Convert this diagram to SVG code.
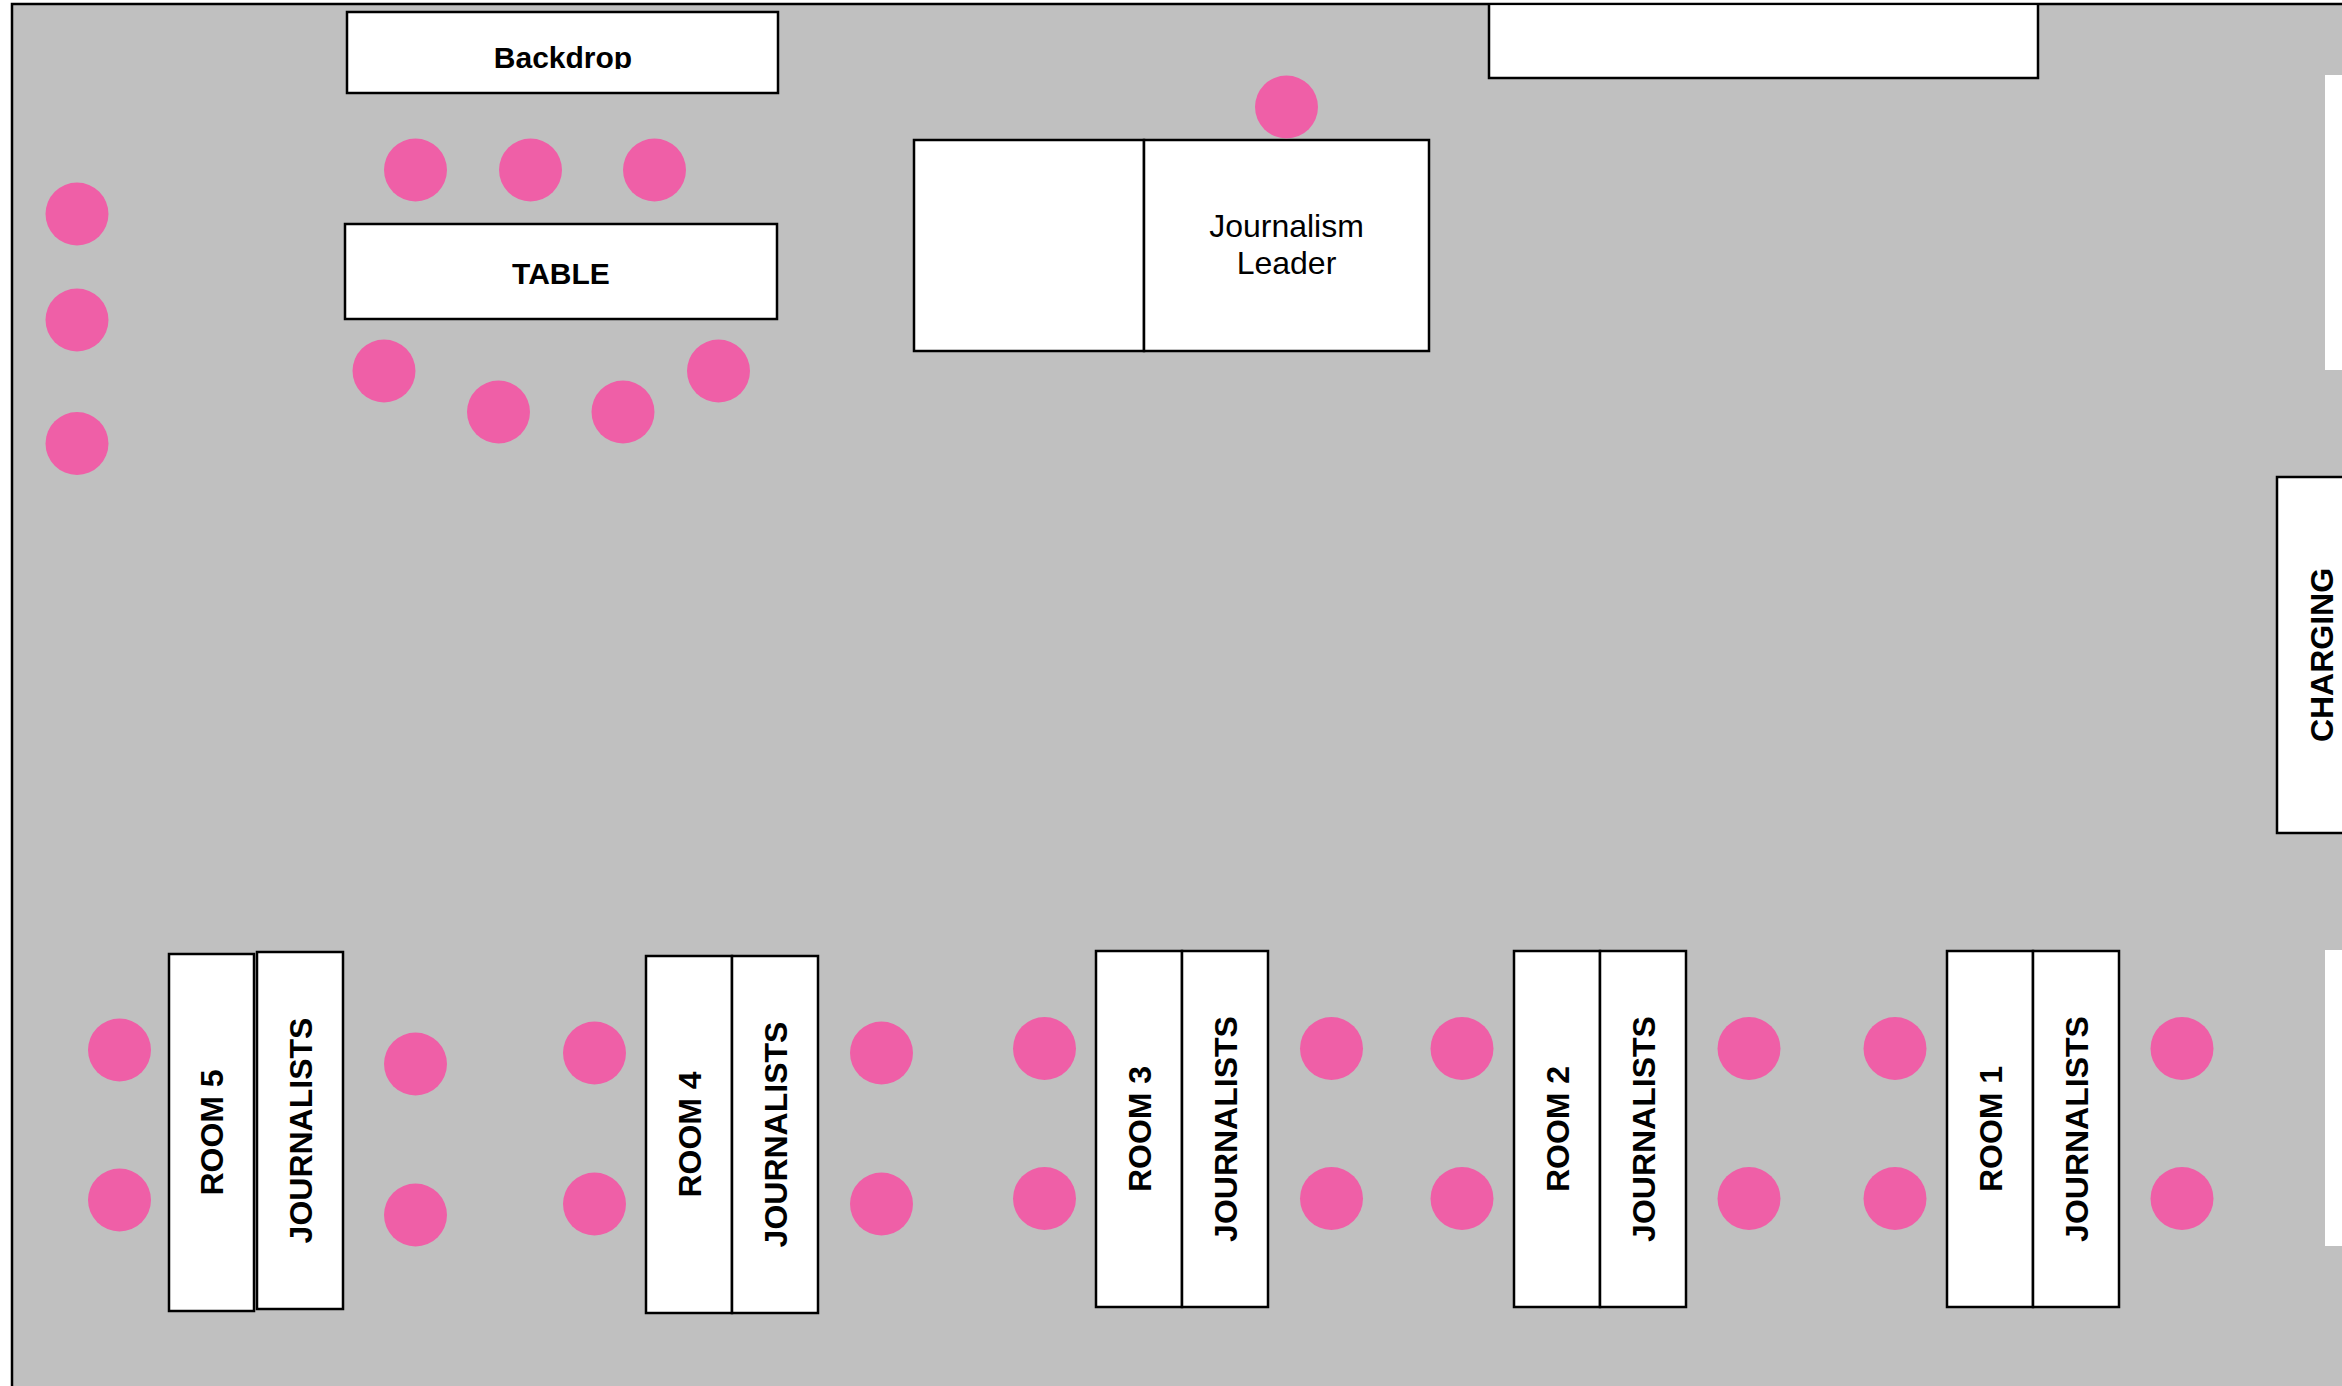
<svg xmlns="http://www.w3.org/2000/svg" width="2342" height="1386" viewBox="0 0 2342 1386">
  <defs>
    <style>
      .box { fill: #ffffff; stroke: #000000; stroke-width: 2.5; }
      .plain { fill: #ffffff; stroke: none; }
      .seat { fill: #EF5FA7; }
      .lbl { font-family: "Liberation Sans", Arial, Helvetica, sans-serif; font-weight: bold; fill: #000000; text-anchor: middle; }
      .reg { font-family: "Liberation Sans", Arial, Helvetica, sans-serif; font-weight: normal; fill: #000000; text-anchor: middle; font-size: 32px; }
      .vert { font-size: 32px; }
    </style>
    <clipPath id="backdropClip">
      <rect x="347" y="12" width="431" height="57"/>
    </clipPath>
  </defs>

  <rect x="0" y="0" width="2342" height="1386" fill="#ffffff"/>
  <rect id="room-floor" x="12" y="4" width="2400" height="1500" fill="#C0C0C0" stroke="#000000" stroke-width="2.5"/>

  <g id="backdrop">
    <rect class="box" x="347" y="12" width="431" height="81"/>
    <text class="lbl" x="563" y="68" font-size="30" clip-path="url(#backdropClip)">Backdrop</text>
  </g>

  <g id="table">
    <rect class="box" x="345" y="224" width="432" height="95"/>
    <text class="lbl" x="561" y="284" font-size="30">TABLE</text>
  </g>

  <g id="leader-desk-left">
    <rect class="box" x="914" y="140" width="230" height="211"/>
  </g>
  <g id="journalism-leader">
    <rect class="box" x="1144" y="140" width="285" height="211"/>
    <text class="reg" x="1286.5" y="237">Journalism</text>
    <text class="reg" x="1286.5" y="274">Leader</text>
  </g>

  <g id="top-right-box">
    <rect class="plain" x="1489" y="5.25" width="549" height="72.75"/>
    <path d="M1489,5 V78 H2038 V5" fill="none" stroke="#000000" stroke-width="2.5"/>
  </g>

  <g id="right-panel-top">
    <rect class="plain" x="2325" y="75" width="40" height="295"/>
  </g>

  <g id="charging">
    <rect class="box" x="2277" y="477" width="100" height="356"/>
    <text class="lbl" font-size="32" transform="translate(2321,655) rotate(-90)" x="0" y="11.5">CHARGING</text>
  </g>

  <g id="right-panel-bottom">
    <rect class="plain" x="2325" y="950" width="40" height="296"/>
  </g>

  <g id="seats">
    <circle class="seat" cx="77" cy="214" r="31.5"/>
    <circle class="seat" cx="77" cy="320" r="31.5"/>
    <circle class="seat" cx="77" cy="443.5" r="31.5"/>

    <circle class="seat" cx="415.5" cy="170" r="31.5"/>
    <circle class="seat" cx="530.5" cy="170" r="31.5"/>
    <circle class="seat" cx="654.5" cy="170" r="31.5"/>

    <circle class="seat" cx="384" cy="371" r="31.5"/>
    <circle class="seat" cx="498.5" cy="412" r="31.5"/>
    <circle class="seat" cx="623" cy="412" r="31.5"/>
    <circle class="seat" cx="718.5" cy="371" r="31.5"/>

    <circle class="seat" cx="1286.5" cy="107" r="31.5"/>

    <circle class="seat" cx="119.5" cy="1050" r="31.5"/>
    <circle class="seat" cx="119.5" cy="1200" r="31.5"/>
    <circle class="seat" cx="415.5" cy="1064" r="31.5"/>
    <circle class="seat" cx="415.5" cy="1215" r="31.5"/>

    <circle class="seat" cx="594.5" cy="1053" r="31.5"/>
    <circle class="seat" cx="594.5" cy="1204" r="31.5"/>
    <circle class="seat" cx="881.5" cy="1053" r="31.5"/>
    <circle class="seat" cx="881.5" cy="1204" r="31.5"/>

    <circle class="seat" cx="1044.5" cy="1048.5" r="31.5"/>
    <circle class="seat" cx="1044.5" cy="1198.5" r="31.5"/>
    <circle class="seat" cx="1331.5" cy="1048.5" r="31.5"/>
    <circle class="seat" cx="1331.5" cy="1198.5" r="31.5"/>

    <circle class="seat" cx="1462" cy="1048.5" r="31.5"/>
    <circle class="seat" cx="1462" cy="1198.5" r="31.5"/>
    <circle class="seat" cx="1749" cy="1048.5" r="31.5"/>
    <circle class="seat" cx="1749" cy="1198.5" r="31.5"/>

    <circle class="seat" cx="1895" cy="1048.5" r="31.5"/>
    <circle class="seat" cx="1895" cy="1198.5" r="31.5"/>
    <circle class="seat" cx="2182" cy="1048.5" r="31.5"/>
    <circle class="seat" cx="2182" cy="1198.5" r="31.5"/>
  </g>

  <g id="room5">
    <rect class="box" x="169" y="954" width="85" height="357"/>
    <text class="lbl vert" transform="translate(211.5,1132.5) rotate(-90)" x="0" y="11.5">ROOM 5</text>
  </g>
  <g id="journalists5">
    <rect class="box" x="257" y="952" width="86" height="357"/>
    <text class="lbl vert" transform="translate(300,1130.5) rotate(-90)" x="0" y="11.5">JOURNALISTS</text>
  </g>

  <g id="room4">
    <rect class="box" x="646" y="956" width="86" height="357"/>
    <text class="lbl vert" transform="translate(689,1134.5) rotate(-90)" x="0" y="11.5">ROOM 4</text>
  </g>
  <g id="journalists4">
    <rect class="box" x="732" y="956" width="86" height="357"/>
    <text class="lbl vert" transform="translate(775,1134.5) rotate(-90)" x="0" y="11.5">JOURNALISTS</text>
  </g>

  <g id="room3">
    <rect class="box" x="1096" y="951" width="86" height="356"/>
    <text class="lbl vert" transform="translate(1139,1129) rotate(-90)" x="0" y="11.5">ROOM 3</text>
  </g>
  <g id="journalists3">
    <rect class="box" x="1182" y="951" width="86" height="356"/>
    <text class="lbl vert" transform="translate(1225,1129) rotate(-90)" x="0" y="11.5">JOURNALISTS</text>
  </g>

  <g id="room2">
    <rect class="box" x="1514" y="951" width="86" height="356"/>
    <text class="lbl vert" transform="translate(1557,1129) rotate(-90)" x="0" y="11.5">ROOM 2</text>
  </g>
  <g id="journalists2">
    <rect class="box" x="1600" y="951" width="86" height="356"/>
    <text class="lbl vert" transform="translate(1643,1129) rotate(-90)" x="0" y="11.5">JOURNALISTS</text>
  </g>

  <g id="room1">
    <rect class="box" x="1947" y="951" width="86" height="356"/>
    <text class="lbl vert" transform="translate(1990,1129) rotate(-90)" x="0" y="11.5">ROOM 1</text>
  </g>
  <g id="journalists1">
    <rect class="box" x="2033" y="951" width="86" height="356"/>
    <text class="lbl vert" transform="translate(2076,1129) rotate(-90)" x="0" y="11.5">JOURNALISTS</text>
  </g>

  <g id="connectors"></g>
</svg>
